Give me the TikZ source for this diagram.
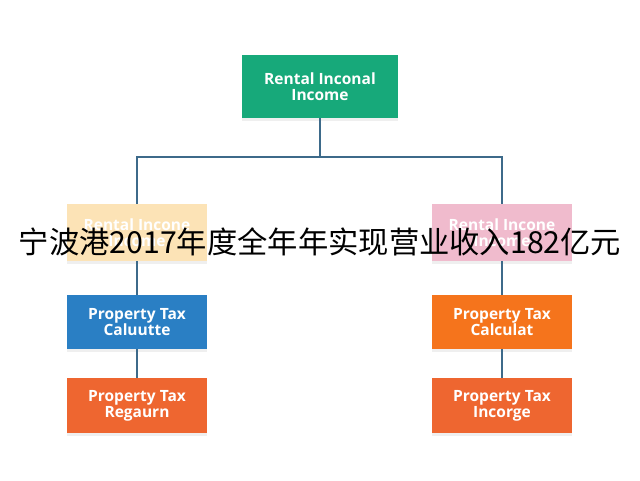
\documentclass[tikz,border=0pt]{standalone}
\usepackage{fontspec}
\setmainfont{Open Sans}
\newfontfamily\cjk{Noto Sans CJK SC}
\usetikzlibrary{shadows}
\definecolor{cgreen}{HTML}{17A97A}
\definecolor{cyellow}{HTML}{FCE3B6}
\definecolor{cpink}{HTML}{F0BBCD}
\definecolor{cblue}{HTML}{2A7FC4}
\definecolor{corange}{HTML}{F5741C}
\definecolor{cred}{HTML}{EE6630}
\definecolor{cline}{HTML}{3D6A8A}
\tikzset{
  box/.style={minimum width=140pt, inner sep=0pt, align=center, text=white,
    font=\fontsize{15.5}{16}\selectfont\bfseries,
    drop shadow={opacity=0.12, shadow xshift=0pt, shadow yshift=-3pt}},
  conn/.style={draw=cline, line width=1.6pt},
}
\begin{document}
\begin{tikzpicture}[x=1pt,y=-1pt]
\useasboundingbox[fill=white] (0,0) rectangle (640,480);
\node[box, fill=cgreen, minimum width=156pt, minimum height=63pt] (top) at (320,86.5) {Rental Inconal\\Income};
\node[box, fill=cyellow, minimum height=57pt] (l1) at (137,232.5) {Rental Incone\\Income};
\node[box, fill=cblue, minimum height=54pt] (l2) at (137,322) {Property Tax\\Caluutte};
\node[box, fill=cred, minimum height=55pt] (l3) at (137,405.5) {Property Tax\\Regaurn};
\node[box, fill=cpink, minimum height=57pt] (r1) at (502,232.5) {Rental Incone\\Income};
\node[box, fill=corange, minimum height=54pt] (r2) at (502,322) {Property Tax\\Calculat};
\node[box, fill=cred, minimum height=55pt] (r3) at (502,405.5) {Property Tax\\Incorge};
\coordinate (mid) at (320,157);
\draw[conn] (top.south) -- (mid);
\draw[conn] (l1.north) |- (mid) -| (r1.north);
\draw[conn] (l1.south) -- (l2.north);
\draw[conn] (l2.south) -- (l3.north);
\draw[conn] (r1.south) -- (r2.north);
\draw[conn] (r2.south) -- (r3.north);
\node[font=\cjk\fontsize{30.3}{34}\selectfont, text=black, inner sep=0pt] (title) at (320,242) {宁波港2017年度全年年实现营业收入182亿元};
\end{tikzpicture}
\end{document}
